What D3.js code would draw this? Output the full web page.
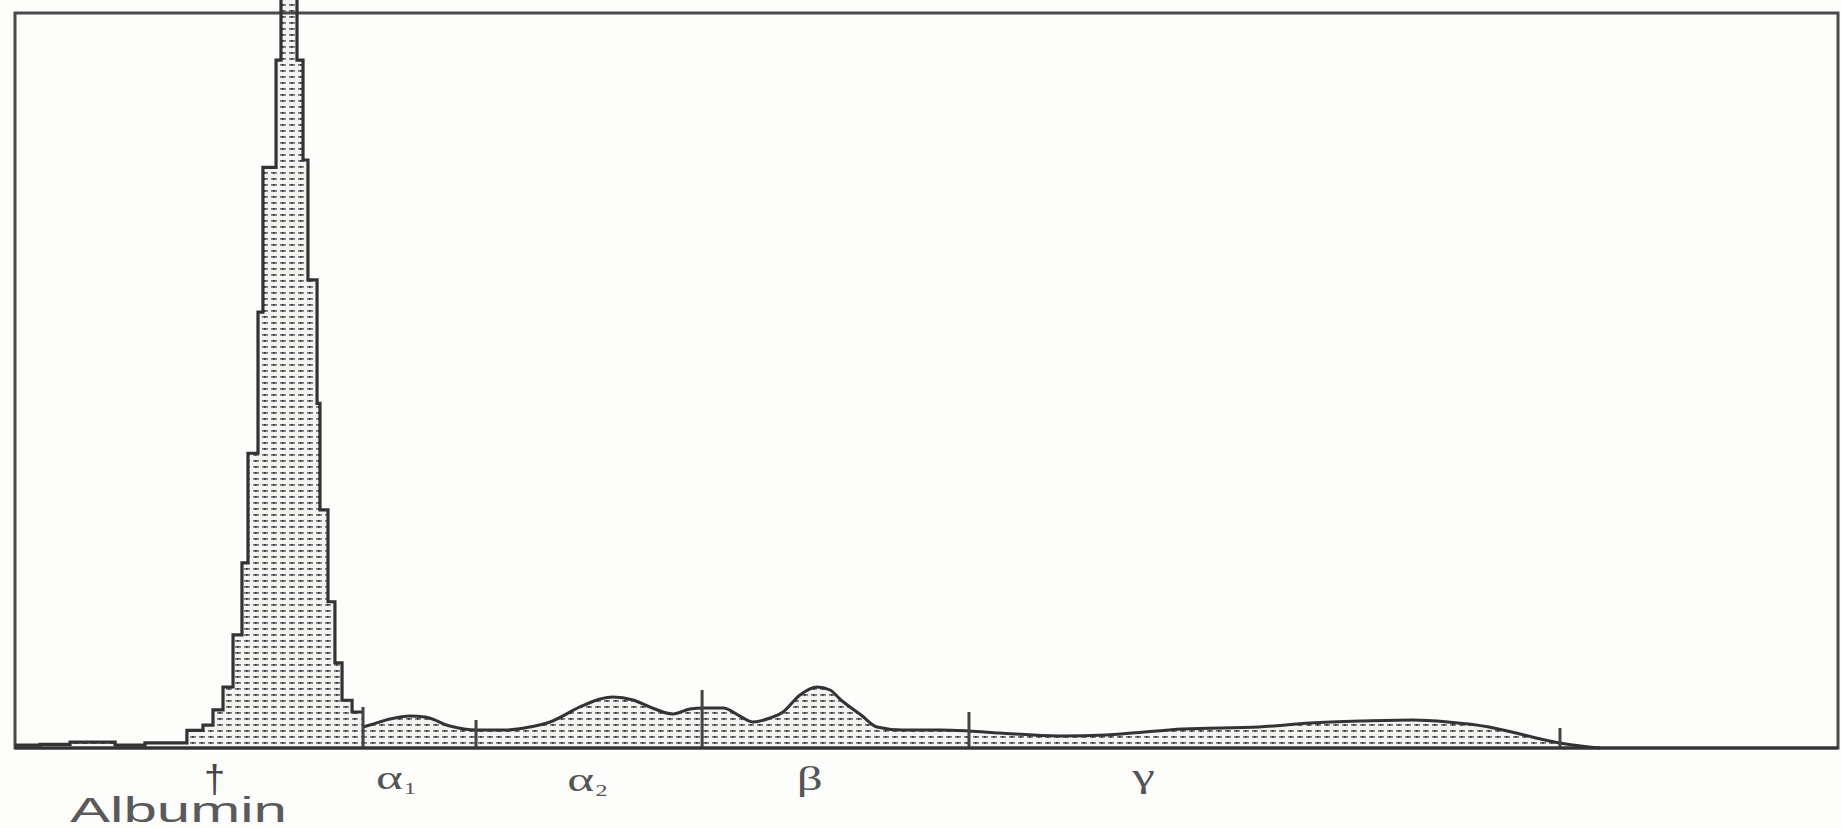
<!DOCTYPE html>
<html><head><meta charset="utf-8">
<script src="https://cdn.jsdelivr.net/npm/d3@7"></script>
<style>html,body{margin:0;padding:0;background:#fff;} svg{display:block;}</style>
</head><body>
<svg id="chart" width="1842" height="828"></svg>
<script>
// Densitometric scan of serum protein electrophoresis
// x: migration distance (relative units 0-100), y: relative absorbance (0-100 = frame height)

// Pre-albumin baseline + albumin peak (step trace)
const stepPositions = [0, 1.37, 3.02, 5.49, 7.13, 9.43, 10.31, 10.86, 11.41, 11.96, 12.45, 12.78, 13.33, 13.60, 14.32, 14.59, 15.47, 15.80, 16.07, 16.57, 16.73, 17.17, 17.55, 17.94, 18.49, 19.09];
const stepLevels    = [0.4, 0.5, 0.8, 0.4, 0.7, 2.4, 3.1, 5.2, 8.3, 15.4, 25.2, 40.1, 59.3, 79.0, 93.6, 104, 93.6, 80.0, 63.7, 46.9, 32.4, 19.9, 11.6, 6.5, 4.9, 4.9];

// Globulin region (smooth trace)
const scanPositions = [19.09, 19.47, 20.57, 21.67, 22.49, 23.86, 25.29, 26.99, 28.25, 29.35, 30.99, 32.09, 32.80, 33.90, 34.83, 36.09, 37.03, 37.74, 38.84, 39.77, 40.48, 41.42, 42.13, 43.06, 43.99, 44.71, 45.31, 46.41, 47.28, 48.66, 50.74, 52.33, 54.03, 57.32, 59.85, 61.27, 64.07, 68.24, 71.04, 73.83, 76.63, 78.61, 80.86, 82.78, 83.93, 84.75, 85.90, 86.95];
const scanLevels    = [2.86, 3.13, 3.95, 4.35, 4.22, 2.99, 2.45, 2.45, 2.86, 3.54, 5.58, 6.67, 6.94, 6.53, 5.58, 4.63, 5.31, 5.44, 5.44, 4.35, 3.54, 4.08, 4.90, 7.21, 8.30, 7.89, 6.53, 4.49, 2.86, 2.45, 2.45, 2.31, 2.04, 1.63, 1.77, 2.04, 2.59, 2.86, 3.40, 3.67, 3.81, 3.54, 2.86, 1.77, 1.09, 0.68, 0.27, 0];

// Fraction boundary markers
const markerPositions = [19.09, 25.29, 37.69, 52.33, 84.75];
const markerLevels    = [5.58, 3.81, 7.89, 4.90, 2.72];

// Fraction labels
const fractionNames     = ["α", "α", "β", "γ"];
const fractionSubs      = ["1", "2", "", ""];
const fractionPositions = [20.9, 31.4, 43.6, 61.9];
const albuminLabel = "Albumin";
const albuminArrowPos = 10.95;

const W = 1842, H = 828;
const frame = {left: 15, top: 13, right: 1838, bottom: 748};

const svg = d3.select("#chart");
const x = d3.scaleLinear().domain([0, 100]).range([frame.left, frame.right]);
const y = d3.scaleLinear().domain([0, 100]).range([frame.bottom, frame.top]);

svg.append("rect").attr("width", W).attr("height", H).attr("fill", "#fdfdfb");

const defs = svg.append("defs");
const pat = defs.append("pattern").attr("id", "hatch")
  .attr("patternUnits", "userSpaceOnUse").attr("width", 9).attr("height", 6)
  .attr("patternTransform", "translate(0,2)");
pat.append("rect").attr("width", 9).attr("height", 6).attr("fill", "#f3f3f1");
pat.append("rect").attr("x", 1).attr("y", 2).attr("width", 6).attr("height", 1.8).attr("fill", "#7a7a7a");
pat.append("rect").attr("x", 3).attr("y", 2).attr("width", 1.6).attr("height", 1.8).attr("fill", "#333");

const stepData = stepPositions.map((p, i) => ({p, v: stepLevels[i]}));
const scanData = scanPositions.map((p, i) => ({p, v: scanLevels[i]}));

const stepArea = d3.area().x(d => x(d.p)).y0(y(0)).y1(d => y(d.v)).curve(d3.curveStepAfter);
const stepLine = d3.line().x(d => x(d.p)).y(d => y(d.v)).curve(d3.curveStepAfter);
const scanArea = d3.area().x(d => x(d.p)).y0(y(0)).y1(d => y(d.v)).curve(d3.curveMonotoneX);
const scanLine = d3.line().x(d => x(d.p)).y(d => y(d.v)).curve(d3.curveMonotoneX);

svg.append("path").datum(stepData).attr("d", stepArea).attr("fill", "url(#hatch)");
svg.append("path").datum(scanData).attr("d", scanArea).attr("fill", "url(#hatch)");

// frame
svg.append("rect").attr("x", frame.left).attr("y", frame.top)
  .attr("width", frame.right - frame.left).attr("height", frame.bottom - frame.top)
  .attr("fill", "none").attr("stroke", "#4a4a4a").attr("stroke-width", 3);

svg.append("path").datum(stepData).attr("d", stepLine)
  .attr("fill", "none").attr("stroke", "#333").attr("stroke-width", 3.2);
svg.append("path").datum(scanData).attr("d", scanLine)
  .attr("fill", "none").attr("stroke", "#333").attr("stroke-width", 3);

// boundary markers
svg.selectAll("line.marker").data(markerPositions).join("line").attr("class", "marker")
  .attr("x1", d => x(d)).attr("x2", d => x(d))
  .attr("y1", y(0)).attr("y2", (d, i) => y(markerLevels[i]))
  .attr("stroke", "#444").attr("stroke-width", 3);

// baseline
svg.append("line").attr("x1", frame.left).attr("x2", frame.right)
  .attr("y1", y(0)).attr("y2", y(0)).attr("stroke", "#333").attr("stroke-width", 3.2);

// labels
svg.append("text").attr("x", x(albuminArrowPos)).attr("y", 792)
  .attr("text-anchor", "middle").attr("font-family", "Liberation Sans, Arial, sans-serif")
  .attr("font-size", 38).attr("fill", "#444").text("†");

svg.append("text").attr("x", 70).attr("y", 822)
  .attr("font-family", "Liberation Sans, Arial, sans-serif").attr("font-size", 35)
  .attr("textLength", 217).attr("lengthAdjust", "spacingAndGlyphs")
  .attr("fill", "#5a5a5a").text(albuminLabel);

const labelY = [789, 791, 790, 787];
fractionNames.forEach((name, i) => {
  const g = svg.append("g").attr("transform", `translate(${x(fractionPositions[i])},${labelY[i]}) scale(1.5,1)`);
  const t = g.append("text").attr("text-anchor", "middle")
    .attr("font-family", "Liberation Serif, Times New Roman, serif")
    .attr("font-size", 34).attr("fill", "#555");
  t.append("tspan").text(name);
  if (fractionSubs[i]) {
    t.append("tspan").attr("font-size", 16).attr("dy", 5).attr("dx", 1).text(fractionSubs[i]);
  }
});
</script>
</body></html>
